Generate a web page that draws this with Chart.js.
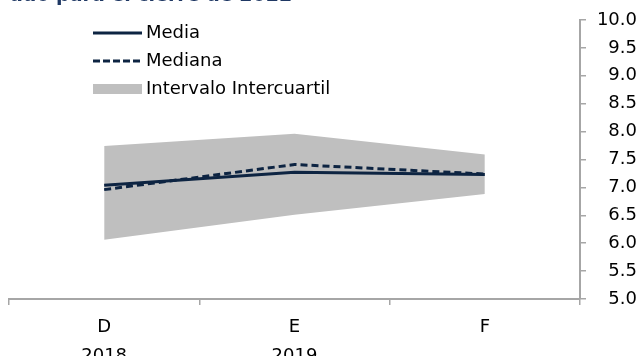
<!DOCTYPE html>
<html lang="es">
<head>
<meta charset="utf-8">
<script src="https://cdn.jsdelivr.net/npm/chart.js@4.4.1/dist/chart.umd.min.js"></script>
<style>
  html, body { margin: 0; padding: 0; background: #ffffff; }
  #contenedor { position: relative; width: 642px; height: 356px; overflow: hidden; }
  #titulo {
    position: absolute; left: 10px; top: -16px;
    font-family: "DejaVu Sans", sans-serif; font-weight: bold; font-size: 19px;
    color: #1f3864; white-space: nowrap; line-height: 20px;
  }
</style>
</head>
<body>
<div id="contenedor">
  <div id="titulo">ado para el cierre de 2022</div>
  <canvas id="graficoExpectativas" width="642" height="356"></canvas>
</div>
<script>
// Categorías del eje x (mes y año debajo)
const categorias = [['D', '2018'], ['E', '2019'], ['F', '']];

// Series
const media = [7.04, 7.27, 7.23];
const mediana = [6.96, 7.41, 7.24];
const cuartilInferior = [6.06, 6.51, 6.88];
const cuartilSuperior = [7.74, 7.96, 7.59];

// Eje y
const ejeMin = 5.0;
const ejeMax = 10.0;
const ejePaso = 0.5;

const colorLinea = '#0d2442';
const colorBanda = '#bfbfbf';
const colorEje = '#a6a6a6';
const fuente = '"DejaVu Sans", sans-serif';

// Leyenda dibujada dentro del área del gráfico, arriba a la izquierda
const leyendaPropia = {
    id: 'leyendaPropia',
    afterDraw(chart) {
        const ctx = chart.ctx;
        const x0 = 93, x1 = 142, xTexto = 146;
        const filas = [
            { texto: 'Media', y: 33, tipo: 'linea' },
            { texto: 'Mediana', y: 61, tipo: 'guiones' },
            { texto: 'Intervalo Intercuartil', y: 89, tipo: 'caja' }
        ];
        ctx.save();
        filas.forEach(fila => {
            if (fila.tipo === 'caja') {
                ctx.fillStyle = colorBanda;
                ctx.fillRect(x0, fila.y - 5, x1 - x0, 10);
            } else {
                ctx.strokeStyle = colorLinea;
                ctx.lineWidth = 3;
                ctx.setLineDash(fila.tipo === 'guiones' ? [7, 3] : []);
                ctx.beginPath();
                ctx.moveTo(x0, fila.y);
                ctx.lineTo(x1, fila.y);
                ctx.stroke();
            }
            ctx.setLineDash([]);
            ctx.fillStyle = '#000000';
            ctx.font = '18px ' + fuente;
            ctx.textBaseline = 'middle';
            ctx.textAlign = 'left';
            ctx.fillText(fila.texto, xTexto, fila.y);
        });
        ctx.restore();
    }
};

const ctx = document.getElementById('graficoExpectativas').getContext('2d');

const grafico = new Chart(ctx, {
    type: 'line',
    data: {
        labels: categorias,
        datasets: [
            {
                label: 'Cuartil inferior',
                data: cuartilInferior,
                borderWidth: 0,
                pointRadius: 0,
                fill: false,
                order: 3
            },
            {
                label: 'Intervalo Intercuartil',
                data: cuartilSuperior,
                borderWidth: 0,
                pointRadius: 0,
                backgroundColor: colorBanda,
                fill: '-1',
                order: 3
            },
            {
                label: 'Media',
                data: media,
                borderColor: colorLinea,
                borderWidth: 3,
                pointRadius: 0,
                fill: false,
                order: 1
            },
            {
                label: 'Mediana',
                data: mediana,
                borderColor: colorLinea,
                borderWidth: 3,
                borderDash: [7, 4],
                pointRadius: 0,
                fill: false,
                order: 2
            }
        ]
    },
    options: {
        responsive: false,
        animation: false,
        layout: { padding: { left: 9, top: 20, right: 5, bottom: 0 } },
        plugins: {
            legend: { display: false },
            tooltip: { enabled: false }
        },
        scales: {
            x: {
                offset: true,
                grid: {
                    offset: true,
                    drawOnChartArea: false,
                    tickLength: 6,
                    color: colorEje,
                    lineWidth: 1.5
                },
                border: { color: colorEje, width: 2 },
                ticks: {
                    color: '#000000',
                    font: { family: fuente, size: 18, lineHeight: 1.6 },
                    padding: 8,
                    maxRotation: 0
                },
                afterFit(escala) { escala.height = 57; }
            },
            y: {
                position: 'right',
                min: ejeMin,
                max: ejeMax,
                grid: {
                    drawOnChartArea: false,
                    tickLength: 6,
                    color: colorEje,
                    lineWidth: 1.5
                },
                border: { color: colorEje, width: 2 },
                ticks: {
                    stepSize: ejePaso,
                    color: '#000000',
                    font: { family: fuente, size: 18 },
                    crossAlign: 'far',
                    callback: valor => valor.toFixed(1)
                },
                afterFit(escala) { escala.width = 57; }
            }
        }
    },
    plugins: [leyendaPropia]
});
</script>
</body>
</html>
